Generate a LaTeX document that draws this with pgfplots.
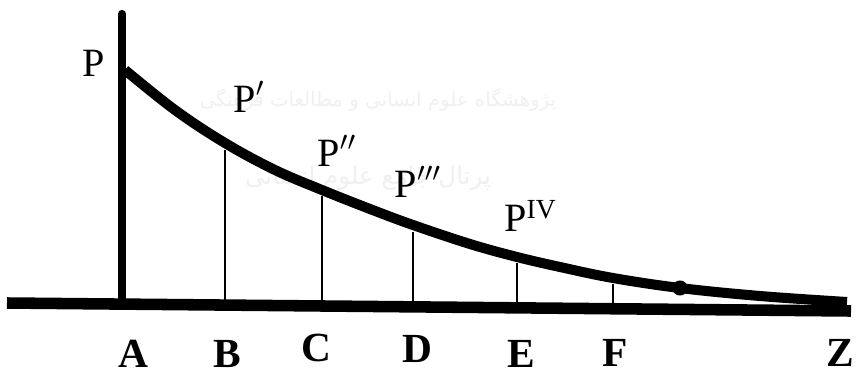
\documentclass[border=0pt]{standalone}
\usepackage{pgfplots}
\pgfplotsset{compat=1.18}
\usepackage{graphicx}
\usepackage{fontspec}
\setmainfont{Liberation Serif}
\newfontfamily\farsi[Script=Arabic]{DejaVu Sans}
\TeXXeTstate=1

\tikzset{
  lab/.style={font=\fontsize{16}{16}\selectfont, inner sep=0pt},
  blab/.style={font=\fontsize{16.5}{16.5}\selectfont\bfseries, inner sep=0pt},
}

\begin{document}
\begin{tikzpicture}
\begin{axis}[
  scale only axis, width=12cm, height=5.237cm,
  xmin=0, xmax=857, ymin=0, ymax=374, y dir=reverse,
  axis line style={draw=none}, ticks=none, clip=false,
]
% faint background text
\node[text=black!6] at (axis cs:378,100) {\resizebox{142pt}{!}{\farsi\beginR پژوهشگاه علوم انسانی و مطالعات فرهنگی\endR}};
\node[text=black!6] at (axis cs:368,178) {\resizebox{98pt}{!}{\farsi\beginR پرتال جامع علوم انسانی\endR}};

% base line
\addplot[black, line width=4.6pt] coordinates {(7,303) (851,311)};
% initial ordinate at A
\addplot[black, line width=3.3pt, line cap=round] coordinates {(122,14) (122,303)};
% ordinates at B ... F
\addplot[black, line width=0.8pt] coordinates {(225,305) (225,150)};
\addplot[black, line width=0.8pt] coordinates {(322,306) (322,196)};
\addplot[black, line width=0.8pt] coordinates {(413,307) (413,232)};
\addplot[black, line width=0.8pt] coordinates {(517,308) (517,263)};
\addplot[black, line width=0.8pt] coordinates {(613,309) (613,284)};
% decay curve
\addplot[black, line width=4pt, smooth, tension=0.6] coordinates {
  (125,70) (175,110) (225,143) (275,170) (322,190) (370,209)
  (413,225) (470,244) (517,257) (560,267) (613,278) (680,288)
  (760,296) (847,302)};
\addplot[only marks, mark=*, mark size=2.8pt, black] coordinates {(680,288)};

% labels
\node[lab] at (axis cs:94,63) {P};
\node[lab] at (axis cs:249,97) {P$'$};
\node[lab] at (axis cs:337,151) {P$''$};
\node[lab] at (axis cs:418,182) {P$'''$};
\node[lab] at (axis cs:530,216) {P\raisebox{0.75ex}{\fontsize{11}{11}\selectfont IV}};

\node[blab] at (axis cs:133,354) {A};
\node[blab] at (axis cs:227,354) {B};
\node[blab] at (axis cs:316,348) {C};
\node[blab] at (axis cs:417,349) {D};
\node[blab] at (axis cs:521,354) {E};
\node[blab] at (axis cs:615,353) {F};
\node[blab] at (axis cs:840,353) {Z};
\end{axis}
\end{tikzpicture}
\end{document}
